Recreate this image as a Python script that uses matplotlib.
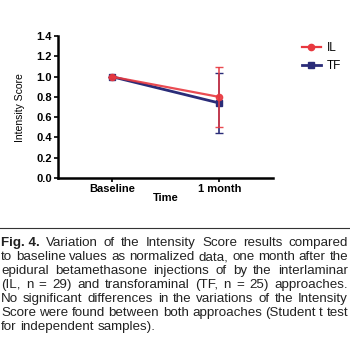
import matplotlib
matplotlib.use("Agg")
import matplotlib.pyplot as plt
from matplotlib.lines import Line2D

plt.rcParams["font.family"] = ["Liberation Sans", "DejaVu Sans"]

timepoints = ["Baseline", "1 month"]
il_mean = [1.0, 0.80]
il_err = [0.0, 0.30]
tf_mean = [1.0, 0.74]
tf_err = [0.0, 0.30]
y_ticks = [0.0, 0.2, 0.4, 0.6, 0.8, 1.0, 1.2, 1.4]

caption_lines = [
    ("Fig. 4.", "Variation of the Intensity Score results compared"),
    ("", "to baseline values as normalized data, one month after the"),
    ("", "epidural betamethasone injections of by the interlaminar"),
    ("", "(IL, n = 29) and transforaminal (TF, n = 25) approaches."),
    ("", "No significant differences in the variations of the Intensity"),
    ("", "Score were found between both approaches (Student t test"),
    ("", "for independent samples)."),
]

IL_COLOR = "#E8383F"
TF_COLOR = "#2A2C78"

fig = plt.figure(figsize=(3.5, 3.41), dpi=100)
ax = fig.add_axes([0.166, 0.478, 0.614, 0.416])

x = list(range(len(timepoints)))
ax.errorbar(x, tf_mean, yerr=tf_err, color=TF_COLOR, marker="s", ms=4.5, lw=2,
            capsize=3, capthick=1, elinewidth=1.2, zorder=3)
ax.errorbar(x, il_mean, yerr=il_err, color=IL_COLOR, marker="o", ms=4.5, lw=1.6,
            capsize=3, capthick=1, elinewidth=1.2, zorder=4, alpha=0.9)

ax.set_xlim(-0.5, 1.5)
ax.set_ylim(0, 1.4)
ax.set_yticks(y_ticks)
ax.set_yticklabels([f"{v:.1f}" for v in y_ticks], fontweight="bold", fontsize=8)
ax.set_xticks(x)
ax.set_xticklabels(timepoints, fontweight="bold", fontsize=8)
ax.spines["top"].set_visible(False)
ax.spines["right"].set_visible(False)
ax.spines["left"].set_linewidth(1.8)
ax.spines["bottom"].set_linewidth(1.8)
ax.tick_params(width=1.2, length=3, pad=1.5)
ax.set_ylabel("Intensity Score", fontsize=7.5, labelpad=8)
ax.set_xlabel("Time", fontsize=8, fontweight="bold", labelpad=-1)

handles = [
    Line2D([], [], color=IL_COLOR, marker="o", ms=4.5, lw=1.6),
    Line2D([], [], color=TF_COLOR, marker="s", ms=4.5, lw=2),
]
fig.legend(handles, ["IL", "TF"], loc="upper left", bbox_to_anchor=(0.845, 0.895),
           frameon=False, handlelength=1.6, handletextpad=0.5, labelspacing=0.55,
           borderpad=0, prop={"size": 8.5})

# divider line above caption
fig.add_artist(Line2D([0.0, 1.0], [1 - 228 / 341, 1 - 228 / 341], color="#333333", lw=0.8))

# justified caption
fig.canvas.draw()
renderer = fig.canvas.get_renderer()
left, right = 1 / 350, 348 / 350
top_y = 243
step = 14.0
fs = 9.6
cap_family = ["Liberation Sans Narrow", "Liberation Sans", "DejaVu Sans"]
for i, (prefix, line) in enumerate(caption_lines):
    y = 1 - (top_y + i * step) / 341
    words = []
    if prefix:
        words.append((prefix, "bold"))
    words += [(w, "normal") for w in line.split(" ")]
    texts = [fig.text(0, y, w, fontsize=fs, fontweight=wt, va="center", ha="left",
                      color="#222222", family=cap_family)
             for w, wt in words]
    widths = [t.get_window_extent(renderer).width / fig.bbox.width for t in texts]
    if i == len(caption_lines) - 1:
        gap_w = 0.011
    else:
        gap_w = (right - left - sum(widths)) / (len(texts) - 1)
    xpos = left
    for t, w in zip(texts, widths):
        t.set_x(xpos)
        xpos += w + gap_w

fig.savefig("out.png", dpi=100)
